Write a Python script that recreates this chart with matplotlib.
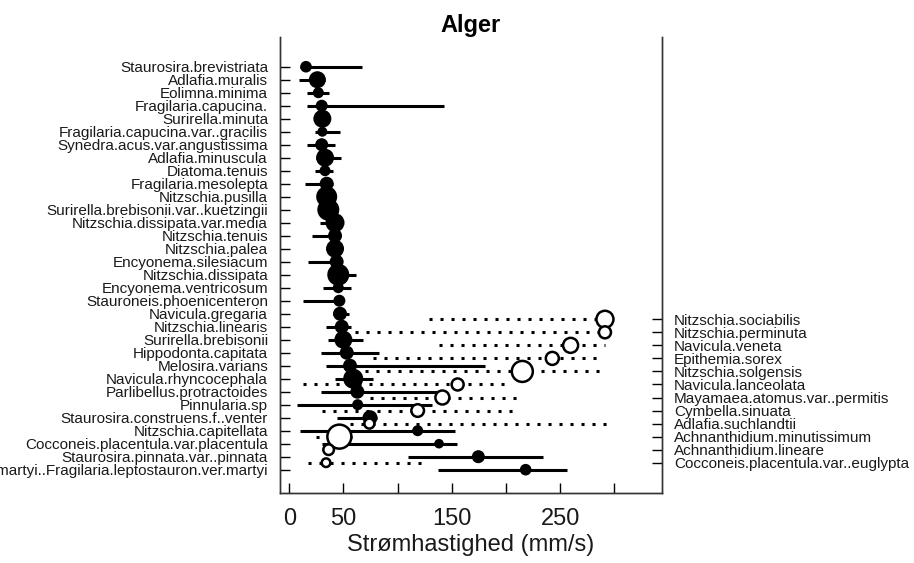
import numpy as np
import matplotlib
matplotlib.use("Agg")
import matplotlib.pyplot as plt

plt.rcParams['font.family'] = ['Liberation Sans', 'DejaVu Sans']

# ---- negative (decreasing) taxa, filled symbols, left axis ----
neg_taxa = [
    "Staurosira.brevistriata", "Adlafia.muralis", "Eolimna.minima",
    "Fragilaria.capucina.", "Surirella.minuta", "Fragilaria.capucina.var..gracilis",
    "Synedra.acus.var.angustissima", "Adlafia.minuscula", "Diatoma.tenuis",
    "Fragilaria.mesolepta", "Nitzschia.pusilla", "Surirella.brebisonii.var..kuetzingii",
    "Nitzschia.dissipata.var.media", "Nitzschia.tenuis", "Nitzschia.palea",
    "Encyonema.silesiacum", "Nitzschia.dissipata", "Encyonema.ventricosum",
    "Stauroneis.phoenicenteron", "Navicula.gregaria", "Nitzschia.linearis",
    "Surirella.brebisonii", "Hippodonta.capitata", "Melosira.varians",
    "Navicula.rhyncocephala", "Parlibellus.protractoides", "Pinnularia.sp",
    "Staurosira.construens.f..venter", "Nitzschia.capitellata",
    "Cocconeis.placentula.var.placentula", "Staurosira.pinnata.var..pinnata",
    "Fragilaria.leptostauron.var.martyi..Fragilaria.leptostauron.ver.martyi",
]
neg_cp = [15.4, 25.9, 26.8, 29.9, 30.5, 30.5, 29.9, 33.0, 33.0, 34.5, 34.5, 36.0,
          42.2, 42.2, 42.2, 43.7, 45.2, 45.2, 46.2, 46.8, 48.4, 49.9, 53.0, 56.0,
          59.0, 62.8, 63.1, 74.5, 118.5, 138.2, 174.5, 218.2]
neg_q05 = [10.0, 9.0, 16.0, 16.6, 25.0, 23.7, 16.6, 25.0, 23.7, 14.5, 28.0, 28.0,
           28.3, 21.3, 36.0, 17.0, 38.0, 30.8, 12.4, 40.0, 33.6, 36.0, 29.0, 33.9,
           42.2, 29.0, 7.4, 44.3, 9.9, 29.9, 109.9, 137.6]
neg_q95 = [66.8, 33.0, 37.0, 142.8, 36.0, 46.8, 42.2, 47.4, 40.6, 40.0, 41.0, 44.0,
           48.0, 48.0, 48.0, 48.0, 61.6, 56.7, 50.0, 55.0, 57.0, 68.3, 82.8, 180.5,
           77.6, 136.0, 131.4, 80.7, 153.0, 154.5, 234.5, 256.0]
neg_z = [5.8, 8.5, 5.5, 6.0, 9.0, 5.0, 6.5, 9.0, 5.5, 7.0, 10.5, 11.0,
         9.5, 7.0, 9.0, 7.0, 11.0, 5.5, 6.0, 7.0, 7.0, 9.0, 7.0, 7.0,
         10.0, 7.0, 5.5, 7.5, 5.5, 4.8, 6.5, 5.8]

# ---- positive (increasing) taxa, open symbols, right axis ----
pos_taxa = [
    "Nitzschia.sociabilis", "Nitzschia.perminuta", "Navicula.veneta",
    "Epithemia.sorex", "Nitzschia.solgensis", "Navicula.lanceolata",
    "Mayamaea.atomus.var..permitis", "Cymbella.sinuata", "Adlafia.suchlandtii",
    "Achnanthidium.minutissimum", "Achnanthidium.lineare",
    "Cocconeis.placentula.var..euglypta",
]
pos_cp = [291.4, 291.4, 259.7, 242.8, 215.1, 155.4, 141.3, 118.5, 73.9, 46.2, 36.3, 33.9]
pos_q05 = [129.3, 60.6, 138.5, 77.6, 69.9, 13.0, 74.5, 29.9, 56.0, 24.6, 30.8, 17.5]
pos_q95 = [293.0, 293.0, 291.4, 288.4, 291.4, 205.3, 209.9, 212.3, 294.5, 63.7, 40.0, 123.7]
pos_z = [8.5, 6.0, 7.5, 6.5, 10.5, 6.0, 7.0, 6.3, 5.0, 12.0, 5.3, 4.3]

xticks = [0, 50, 100, 150, 200, 250, 300]
xticklabels = ["0", "50", "", "150", "", "250", ""]

W, H = 914, 563
fig = plt.figure(figsize=(W / 100, H / 100), dpi=100)
L, R, T, B = 280, 661.5, 36.7, 492.7
ax = fig.add_axes([L / W, 1 - B / H, (R - L) / W, (B - T) / H])
ax2 = ax.twinx()


def msize(z):
    d_pt = 2 * np.asarray(z) * 0.72
    return d_pt ** 2


yn = np.arange(1, len(neg_taxa) + 1)
yp = np.arange(1, len(pos_taxa) + 1)

ax.hlines(yn, neg_q05, neg_q95, colors='black', lw=2.2, zorder=2)
ax.scatter(neg_cp, yn, s=msize(neg_z), c='black', edgecolors='none', zorder=3)

ax2.hlines(yp, pos_q05, pos_q95, colors='black', lw=2.2,
           linestyles=[(0, (1, 2.6))], zorder=2)
ax2.scatter(pos_cp, yp, s=msize(pos_z), facecolors='white', edgecolors='black',
            linewidths=1.8, zorder=4)

ax.set_xlim(-8.6, 343.6)
ax.set_ylim(33.77, -1.31)
ax2.set_ylim(14.3, -20.67)

ax.set_xticks(xticks)
ax.set_xticklabels(xticklabels)
ax.set_yticks(yn)
ax.set_yticklabels(neg_taxa)
ax2.set_yticks(yp)
ax2.set_yticklabels(pos_taxa)

tc = '#1a1a1a'
ax.tick_params(axis='x', direction='in', length=7, width=1, labelsize=17, pad=11,
               labelcolor=tc)
ax.tick_params(axis='y', direction='in', length=7, width=1, labelsize=11, pad=8.6,
               labelcolor=tc)
ax2.tick_params(axis='y', direction='in', length=7, width=1, labelsize=11, pad=9,
                labelcolor=tc)

for a in (ax, ax2):
    a.spines['top'].set_visible(False)
    for s in ('left', 'right', 'bottom'):
        a.spines[s].set_linewidth(1)
        a.spines[s].set_color('#333333')

ax.set_xlabel("Strømhastighed (mm/s)", fontsize=17, labelpad=3, color=tc)
ax.set_title("Alger", fontsize=17, fontweight='bold', pad=3)

fig.savefig("out.png", dpi=100)
